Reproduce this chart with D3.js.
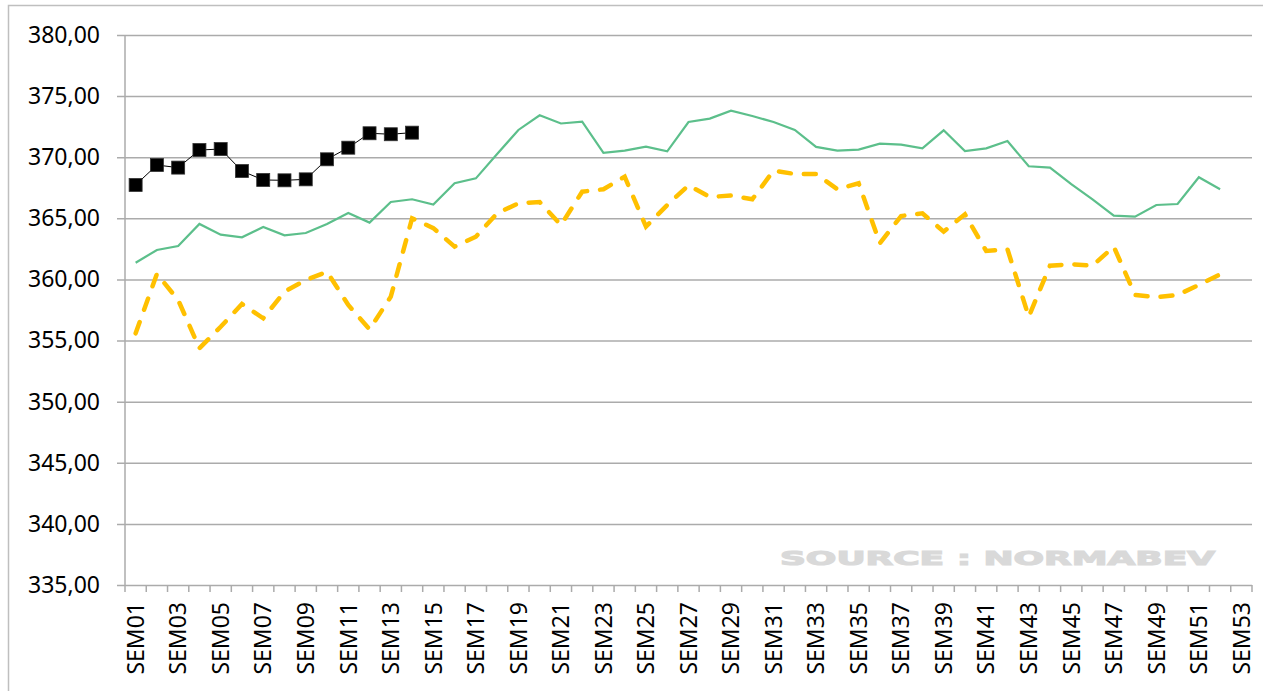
<!DOCTYPE html>
<html>
<head>
<meta charset="utf-8">
<script src="https://cdn.jsdelivr.net/npm/d3@7/dist/d3.min.js"></script>
<style>
  body { margin: 0; background: #fff; }
  svg { display: block; }
  .tick text { font-family: "Noto Sans", sans-serif; fill: #000; }
</style>
</head>
<body>
<div id="chart"></div>
<script>
// weeks SEM01..SEM53
const weeks = d3.range(1, 54).map(i => "SEM" + String(i).padStart(2, "0"));
const yTicks = [335, 340, 345, 350, 355, 360, 365, 370, 375, 380];

// current year (black squares)
const blackValues = [367.73, 369.36, 369.15, 370.59, 370.67, 368.87, 368.14, 368.11, 368.19,
  369.83, 370.78, 371.96, 371.88, 372.01];

// green line
const greenValues = [361.37, 362.41, 362.74, 364.54, 363.66, 363.45, 364.29, 363.61, 363.80,
  364.54, 365.44, 364.65, 366.34, 366.56, 366.12, 367.87, 368.27, 370.26, 372.23, 373.43,
  372.76, 372.92, 370.35, 370.54, 370.87, 370.48, 372.88, 373.16, 373.81, 373.37, 372.88,
  372.23, 370.84, 370.54, 370.62, 371.11, 371.03, 370.73, 372.20, 370.51, 370.73, 371.33,
  369.26, 369.15, 367.79, 366.56, 365.22, 365.14, 366.09, 366.17, 368.36, 367.38];

// orange dashed line
const orangeValues = [355.59, 360.45, 358.32, 354.37, 356.13, 357.99, 356.82, 359.00, 359.95,
  360.63, 357.91, 355.92, 358.59, 365.00, 364.20, 362.68, 363.50, 365.41, 366.23, 366.34,
  364.45, 367.18, 367.38, 368.41, 364.32, 366.09, 367.70, 366.75, 366.86, 366.56, 368.90,
  368.63, 368.63, 367.38, 367.87, 362.96, 365.19, 365.41, 363.91, 365.33, 362.33, 362.47,
  356.95, 361.13, 361.24, 361.13, 362.68, 358.73, 358.54, 358.73, 359.55, 360.42];

const width = 1263, height = 691;
const plotLeft = 125, plotRight = 1252, plotTop = 35, plotBottom = 585;

const svg = d3.select("#chart").append("svg")
    .attr("width", width)
    .attr("height", height);

// chart frame (top + left visible)
svg.append("path")
    .attr("d", `M8.5,${height + 2} V5.5 H${width + 2}`)
    .attr("fill", "none")
    .attr("stroke", "#bfbfbf")
    .attr("stroke-width", 1.5);

const x = d3.scaleBand().domain(weeks).range([plotLeft, plotRight]);
const y = d3.scaleLinear().domain([335, 380]).range([plotBottom, plotTop]);

// y axis with gridlines
const yAxis = svg.append("g")
    .attr("transform", `translate(117,0)`)
    .call(d3.axisLeft(y)
        .tickValues(yTicks)
        .tickSize(-(plotRight - 117))
        .tickPadding(17)
        .tickFormat(d => d3.format(".2f")(d).replace(".", ",")));
yAxis.select(".domain").remove();
yAxis.selectAll(".tick line").attr("stroke", "#ababab").attr("stroke-width", 1.5);
yAxis.selectAll(".tick text").style("font-size", "23px");

svg.append("line")
    .attr("x1", plotLeft).attr("x2", plotLeft)
    .attr("y1", plotTop).attr("y2", plotBottom)
    .attr("stroke", "#ababab").attr("stroke-width", 1.5);

// x axis: tick marks at category boundaries, labels on odd weeks
const bounds = weeks.map(d => x(d)).concat([x.range()[1]]);
svg.append("g").selectAll("line")
    .data(bounds)
    .enter().append("line")
    .attr("x1", d => d).attr("x2", d => d)
    .attr("y1", plotBottom).attr("y2", plotBottom + 7)
    .attr("stroke", "#ababab").attr("stroke-width", 1.5);

const xAxis = svg.append("g")
    .attr("transform", `translate(0,${plotBottom})`)
    .call(d3.axisBottom(x)
        .tickValues(weeks.filter((d, i) => i % 2 === 0))
        .tickSize(0));
xAxis.select(".domain").remove();
xAxis.selectAll(".tick text")
    .style("font-size", "23px")
    .attr("transform", "rotate(-90)")
    .attr("text-anchor", "end")
    .attr("x", -17)
    .attr("y", 0)
    .attr("dy", "0.36em");

// watermark
svg.append("text")
    .attr("x", 780)
    .attr("y", 565)
    .attr("textLength", 435)
    .attr("lengthAdjust", "spacingAndGlyphs")
    .style("font-family", "'DejaVu Sans', sans-serif")
    .style("font-weight", "bold")
    .style("font-size", "20px")
    .attr("fill", "#d9d9d9")
    .attr("stroke", "#d9d9d9")
    .attr("stroke-width", 1.2)
    .text("SOURCE : NORMABEV");

const line = d3.line()
    .x((d, i) => x(weeks[i]) + x.bandwidth() / 2)
    .y(d => y(d));

svg.append("path")
    .datum(greenValues)
    .attr("d", line)
    .attr("fill", "none")
    .attr("stroke", "#5cbf8b")
    .attr("stroke-width", 2.2);

svg.append("path")
    .datum(orangeValues)
    .attr("d", line)
    .attr("fill", "none")
    .attr("stroke", "#ffc000")
    .attr("stroke-width", 4.5)
    .attr("stroke-linecap", "round")
    .attr("stroke-dasharray", "12,13");

svg.append("path")
    .datum(blackValues)
    .attr("d", line)
    .attr("fill", "none")
    .attr("stroke", "#000")
    .attr("stroke-width", 1);

const ms = 13;
svg.append("g").selectAll("rect")
    .data(blackValues)
    .enter().append("rect")
    .attr("x", (d, i) => x(weeks[i]) + x.bandwidth() / 2 - ms / 2)
    .attr("y", d => y(d) - ms / 2)
    .attr("width", ms)
    .attr("height", ms)
    .attr("fill", "#000")
    .attr("stroke", "#333")
    .attr("stroke-width", 0.8);
</script>
</body>
</html>
